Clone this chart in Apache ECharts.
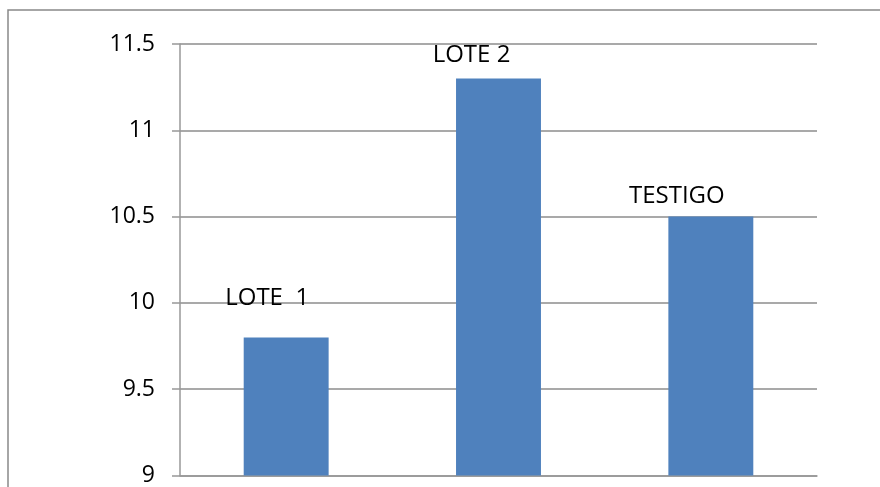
<!DOCTYPE html>
<html>
<head>
<meta charset="utf-8">
<script src="https://cdn.jsdelivr.net/npm/echarts@6/dist/echarts.min.js"></script>
<style>
html,body{margin:0;padding:0;background:#fff;}
#chart{width:880px;height:487px;}
</style>
</head>
<body>
<div id="chart"></div>
<script>
const categories = ['LOTE 1', 'LOTE 2', 'TESTIGO'];
const barLabels = ['LOTE  1', 'LOTE 2', 'TESTIGO'];
const values = [9.8, 11.3, 10.5];
const yTicks = { min: 9, max: 11.5, interval: 0.5 };

// label placement (hand-placed text boxes in the original)
const labelOffsets = [[-19, -27], [-27, -11], [-34, -8]];

const chart = echarts.init(document.getElementById('chart'), null, { renderer: 'canvas' });
const FONT = '"Open Sans", "Liberation Sans", sans-serif';

const option = {
  animation: false,
  backgroundColor: '#ffffff',
  graphic: [{
    type: 'polyline',
    shape: { points: [[8, 600], [8, 10], [900, 10]] },
    style: { fill: 'none', stroke: '#898989', lineWidth: 1.5 },
    z: -10
  }],
  grid: { left: 180, right: 63, top: 44, bottom: 9, containLabel: false },
  xAxis: {
    type: 'category',
    data: categories,
    axisLine: { show: true, lineStyle: { color: '#989898', width: 1.5 } },
    axisTick: { show: false },
    axisLabel: { show: false }
  },
  yAxis: {
    type: 'value',
    min: yTicks.min, max: yTicks.max, interval: yTicks.interval,
    axisLine: { show: true, lineStyle: { color: '#989898', width: 1.5 } },
    axisTick: { show: true, length: 8, lineStyle: { color: '#989898', width: 1.5 } },
    axisLabel: {
      margin: 25, color: '#000', fontSize: 23, fontFamily: FONT,
      formatter: v => String(v)
    },
    splitLine: { show: true, lineStyle: { color: '#8c8c8c', width: 1.5 } }
  },
  series: [{
    type: 'bar',
    barWidth: '40%',
    itemStyle: { color: '#4F81BD' },
    data: values.map((v, i) => ({
      value: v,
      label: {
        show: true,
        position: 'top',
        distance: 0,
        offset: labelOffsets[i],
        formatter: barLabels[i],
        color: '#000',
        fontSize: 24,
        fontFamily: FONT
      }
    }))
  }]
};
chart.setOption(option);
</script>
</body>
</html>
